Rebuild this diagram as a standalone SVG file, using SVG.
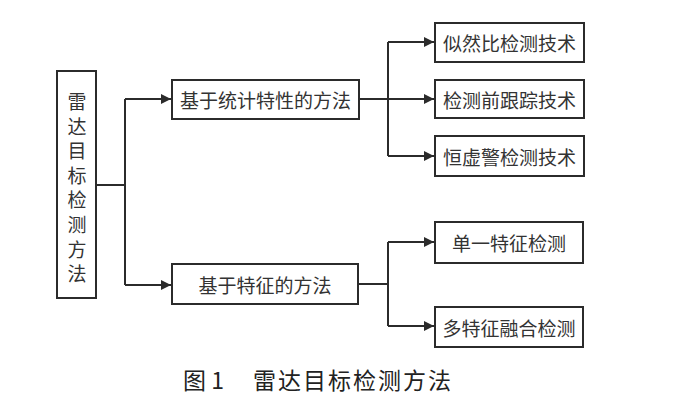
<svg xmlns="http://www.w3.org/2000/svg" width="681" height="402" viewBox="0 0 681 402">
<style>
.box{fill:#fff;stroke:#2b2b2b;stroke-width:2}
.t{font-family:"Noto Sans CJK SC","Noto Sans CJK TC",sans-serif;font-size:19px;fill:#333;text-anchor:middle;dominant-baseline:central}
.c{fill:none;stroke:#2b2b2b;stroke-width:2}
.cap{font-family:"Noto Sans CJK SC",sans-serif;font-size:23px;fill:#222}
</style>
<defs>
<marker id="ah" viewBox="0 0 10 10" refX="10" refY="5" markerWidth="5" markerHeight="5" orient="auto" markerUnits="strokeWidth">
<path d="M0,0 L10,5 L0,10 z" fill="#2b2b2b"/>
</marker>
</defs>
<rect width="681" height="402" fill="#fff"/>
<g id="connectors">
<path class="c" d="M96,185 H125"/>
<path class="c" d="M125,99 V285"/>
<path class="c" d="M125,99 H171" marker-end="url(#ah)"/>
<path class="c" d="M125,285 H171" marker-end="url(#ah)"/>
<path class="c" d="M359,99 H434" marker-end="url(#ah)"/>
<path class="c" d="M388,42 V156"/>
<path class="c" d="M388,42 H434" marker-end="url(#ah)"/>
<path class="c" d="M388,156 H434" marker-end="url(#ah)"/>
<path class="c" d="M358,284 H388"/>
<path class="c" d="M388,242 V326"/>
<path class="c" d="M388,242 H434" marker-end="url(#ah)"/>
<path class="c" d="M388,326 H434" marker-end="url(#ah)"/>
</g>
<g id="root">
<rect class="box" x="57" y="71" width="39" height="227"/>
<text class="t" font-size="20"><tspan x="77" y="100">雷</tspan><tspan x="77" y="124.6">达</tspan><tspan x="77" y="149.2">目</tspan><tspan x="77" y="173.8">标</tspan><tspan x="77" y="198.4">检</tspan><tspan x="77" y="223">测</tspan><tspan x="77" y="247.6">方</tspan><tspan x="77" y="272.2">法</tspan></text>
</g>
<g id="stat">
<rect class="box" x="172" y="80" width="187" height="39"/>
<text class="t" x="265.5" y="99.5">基于统计特性的方法</text>
</g>
<g id="feat">
<rect class="box" x="172" y="264" width="186" height="40"/>
<text class="t" x="265" y="284">基于特征的方法</text>
</g>
<g id="n1">
<rect class="box" x="435" y="23" width="149" height="39"/>
<text class="t" x="509.5" y="42.5">似然比检测技术</text>
</g>
<g id="n2">
<rect class="box" x="435" y="80" width="149" height="38"/>
<text class="t" x="509.5" y="99">检测前跟踪技术</text>
</g>
<g id="n3">
<rect class="box" x="435" y="136" width="149" height="40"/>
<text class="t" x="509.5" y="156">恒虚警检测技术</text>
</g>
<g id="n4">
<rect class="box" x="435" y="222" width="148" height="41"/>
<text class="t" x="509" y="242.5">单一特征检测</text>
</g>
<g id="n5">
<rect class="box" x="435" y="307" width="148" height="40"/>
<text class="t" x="509" y="327">多特征融合检测</text>
</g>
<text class="cap" x="183" y="389">图 1<tspan x="253" letter-spacing="2">雷达目标检测方法</tspan></text>
</svg>
